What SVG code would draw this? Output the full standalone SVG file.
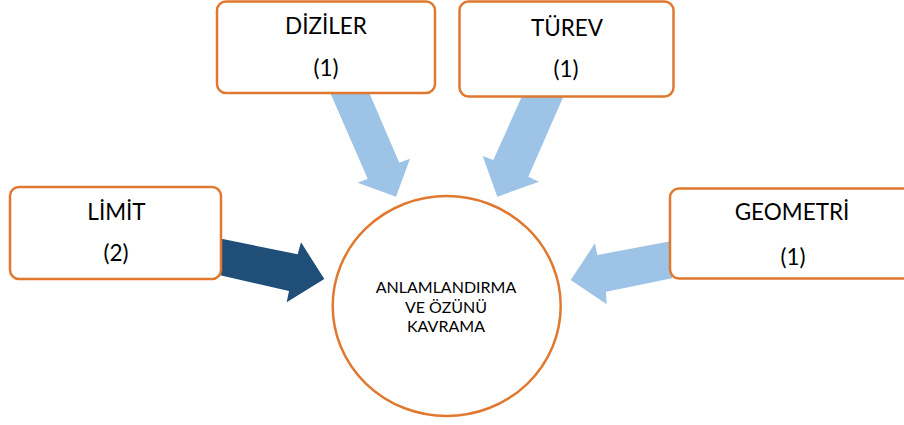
<svg xmlns="http://www.w3.org/2000/svg" width="904" height="425" viewBox="0 0 904 425">
  <style>
    .box { fill: #FFFFFF; stroke: #E0782F; stroke-width: 2.5; }
    .hub { fill: #FFFFFF; stroke: #E0782F; stroke-width: 2.5; }
    .label { font-family: Lato, "Open Sans", sans-serif; font-size: 22.5px; fill: #000000; text-anchor: middle; }
    .hub-label { font-family: Lato, "Open Sans", sans-serif; font-size: 16px; fill: #000000; text-anchor: middle; }
    .light { fill: #9DC3E6; }
    .dark { fill: #1F4E79; }
  </style>
  <rect width="904" height="425" fill="#FFFFFF"/>

  <!-- block arrows pointing at the central circle -->
  <g id="connectors">
    <polygon class="light" points="329,90 368,90 399.3,162.7 410,158.7 396,196.7 357.7,182.7 367.7,178.7"/>
    <polygon class="light" points="523,94 564.5,94 528.3,176.7 539,181.7 497.3,196.7 482.7,156 493.3,160"/>
    <polygon class="dark" points="219,238.3 297.7,254.3 301,242.3 324.3,279 286.7,302.3 289,291 219,275"/>
    <polygon class="light" points="672,241 597.3,255 595,243.3 570.7,280 606.7,304.3 606,291.7 672,278.3"/>
  </g>

  <g id="center">
    <ellipse class="hub" cx="446.7" cy="306" rx="114" ry="110"/>
    <text class="hub-label" x="446" y="293">ANLAMLANDIRMA</text>
    <text class="hub-label" x="446" y="312.5">VE ÖZÜNÜ</text>
    <text class="hub-label" x="446" y="332">KAVRAMA</text>
  </g>

  <g id="diziler">
    <rect class="box" x="217" y="1.5" width="218" height="91.5" rx="9"/>
    <text class="label" x="326" y="34">DİZİLER</text>
    <text class="label" x="326" y="76">(1)</text>
  </g>

  <g id="turev">
    <rect class="box" x="459.5" y="1.5" width="214" height="95" rx="9"/>
    <text class="label" x="567" y="36">TÜREV</text>
    <text class="label" x="566" y="77">(1)</text>
  </g>

  <g id="limit">
    <rect class="box" x="10" y="187" width="211" height="92" rx="9"/>
    <text class="label" x="116.5" y="220">LİMİT</text>
    <text class="label" x="116" y="261">(2)</text>
  </g>

  <!-- this box runs past the right edge of the canvas -->
  <g id="geometri">
    <rect class="box" x="670" y="188.5" width="250" height="90" rx="9"/>
    <text class="label" x="792" y="220">GEOMETRİ</text>
    <text class="label" x="793" y="265">(1)</text>
  </g>
</svg>
